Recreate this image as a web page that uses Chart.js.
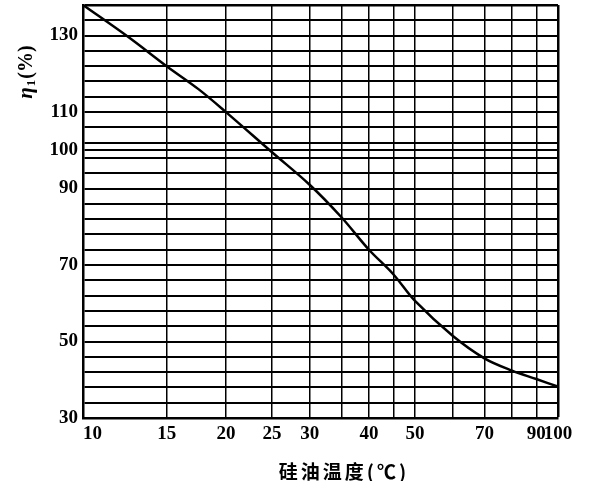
<!DOCTYPE html>
<html lang="zh">
<head>
<meta charset="UTF-8">
<title>硅油温度 - η1</title>
<script src="https://cdn.jsdelivr.net/npm/chart.js"></script>
<style>
  body { margin: 0; background: #fff; }
</style>
</head>
<body>
<canvas id="etaChart" width="604" height="481"></canvas>
<script>
// data
const temps = [10, 12.5, 15, 17.5, 20, 25, 30, 35, 40, 45, 50, 60, 70, 80, 90, 100];
const eta = [138, 129.5, 122, 116, 110, 99.5, 91, 82.5, 74, 67.6, 60.6, 51.5, 45.6, 42.4, 40.2, 38.2];

// grid lines and labels
const xGrid = [10, 15, 20, 25, 30, 35, 40, 45, 50, 60, 70, 80, 90, 100];
const xLabels = [10, 15, 20, 25, 30, 40, 50, 70, 90, 100];
const yGrid = [30, 34, 38, 42, 46, 50, 54, 58, 62, 66, 70, 74, 78, 82, 86, 90, 94, 98, 100,
               102, 106, 110, 114, 118, 122, 126, 130, 134, 138];
const yLabels = [30, 50, 70, 90, 100, 110, 130];

const xTitle = '硅油温度(℃)';

const tickFont = { family: '"Liberation Serif", serif', size: 19, weight: 'bold' };

// axis titles are drawn by hand to sit where the scan has them
const axisTitles = {
  id: 'axisTitles',
  afterDraw(chart) {
    const c = chart.ctx;
    c.save();
    c.fillStyle = '#000';
    c.textBaseline = 'middle';

    c.font = 'bold 19px "Noto Sans CJK SC"';
    c.letterSpacing = '3px';
    c.textAlign = 'center';
    c.fillText(xTitle, 344, 472);
    c.letterSpacing = '0px';

    // η1(%) rotated
    c.translate(26, 72);
    c.rotate(-Math.PI / 2);
    c.textAlign = 'left';
    c.textBaseline = 'alphabetic';
    const f1 = 'italic bold 21px "Liberation Serif"';
    const f2 = 'bold 13px "Liberation Serif"';
    const f3 = 'bold 20px "Liberation Serif"';
    c.font = f1; const w1 = c.measureText('η').width;
    c.font = f2; const w2 = c.measureText('1').width;
    c.font = f3; const w3 = c.measureText('(%)').width;
    let x = -(w1 + w2 + w3 + 2) / 2;
    c.font = f1; c.fillText('η', x, 6); x += w1 + 1;
    c.font = f2; c.fillText('1', x, 9); x += w2 + 1;
    c.font = f3; c.fillText('(%)', x, 6);
    c.restore();
  }
};

const ctx = document.getElementById('etaChart').getContext('2d');
new Chart(ctx, {
  type: 'line',
  data: {
    datasets: [{
      data: temps.map((t, i) => ({ x: t, y: eta[i] })),
      borderColor: '#000',
      borderWidth: 2.5,
      pointRadius: 0,
      fill: false,
      tension: 0.35
    }]
  },
  options: {
    responsive: false,
    animation: false,
    layout: { padding: { top: 5, right: 46, bottom: 0, left: 0 } },
    plugins: {
      legend: { display: false },
      tooltip: { enabled: false }
    },
    scales: {
      x: {
        type: 'logarithmic',
        min: 10,
        max: 100,
        afterBuildTicks: s => { s.ticks = xGrid.map(v => ({ value: v })); },
        afterFit: s => { s.height = 63; s.paddingLeft = 0; s.paddingRight = 0; },
        grid: {
          color: '#000',
          lineWidth: c => (c.tick && c.tick.value === 100 ? 2.5 : 1.5),
          drawTicks: false
        },
        border: { color: '#000', width: 2.5 },
        ticks: {
          autoSkip: false,
          maxRotation: 0,
          padding: 5,
          color: '#000',
          font: tickFont,
          callback: v => {
            if (!xLabels.includes(v)) return '';
            return v === 10 ? '    10' : String(v);
          }
        }
      },
      y: {
        min: 30,
        max: 138,
        afterBuildTicks: s => { s.ticks = yGrid.map(v => ({ value: v })); },
        afterFit: s => { s.width = 83; s.paddingTop = 0; s.paddingBottom = 0; },
        grid: {
          color: '#000',
          lineWidth: c => (c.tick && c.tick.value === 138 ? 2.5 : 2),
          drawTicks: false
        },
        border: { color: '#000', width: 2.5 },
        ticks: {
          autoSkip: false,
          padding: 5,
          color: '#000',
          font: tickFont,
          callback: v => yLabels.includes(v) ? String(v) : ''
        }
      }
    }
  },
  plugins: [axisTitles]
});
</script>
</body>
</html>
